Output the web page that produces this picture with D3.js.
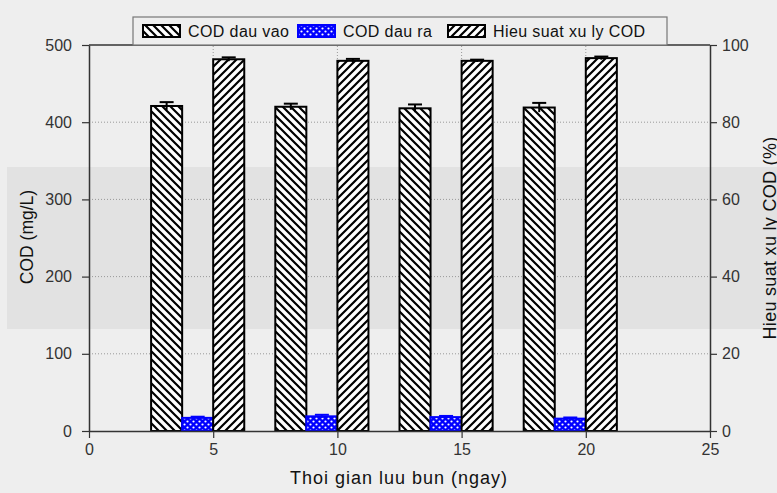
<!DOCTYPE html>
<meta charset="utf-8">
<script src="https://d3js.org/d3.v7.min.js"></script>
<style>
  body { margin: 0; background: #eeeeee; }
  text { font-family: "Liberation Sans", Arial, sans-serif; }
</style>
<body>
<div id="chart"></div>
<script>
  // data
  var days = [5, 10, 15, 20];
  var codIn = [421, 420, 418, 419];
  var codInErr = [5, 4, 5, 6];
  var codOut = [17, 19, 18, 16];
  var codOutErr = [1.5, 2, 1.5, 1.5];
  var eff = [96.3, 95.9, 95.9, 96.6];
  var effErr = [0.5, 0.5, 0.3, 0.4];
  var xTicks = [0, 5, 10, 15, 20, 25];
  var yLeftTicks = [0, 100, 200, 300, 400, 500];
  var yRightTicks = [0, 20, 40, 60, 80, 100];

  var W = 777, H = 493;
  var svg = d3.select("#chart").append("svg")
    .attr("width", W).attr("height", H);

  var x = d3.scaleLinear().domain([0, 25]).range([89, 710]);
  var yL = d3.scaleLinear().domain([0, 500]).range([431, 45]);
  var yR = d3.scaleLinear().domain([0, 100]).range([431, 45]);
  var bw = x(1.25) - x(0);

  // patterns
  var defs = svg.append("defs");
  var p1 = defs.append("pattern").attr("id", "hatchBack")
    .attr("patternUnits", "userSpaceOnUse").attr("width", 8).attr("height", 8);
  p1.append("rect").attr("width", 8).attr("height", 8).attr("fill", "#fff");
  p1.append("path").attr("d", "M-2,-2L10,10M-2,6L2,10M6,-2L10,2")
    .attr("stroke", "#000").attr("stroke-width", 2.2);

  var p2 = defs.append("pattern").attr("id", "hatchFwd")
    .attr("patternUnits", "userSpaceOnUse").attr("width", 8).attr("height", 8);
  p2.append("rect").attr("width", 8).attr("height", 8).attr("fill", "#fff");
  p2.append("path").attr("d", "M-2,10L10,-2M-2,2L2,-2M6,10L10,6")
    .attr("stroke", "#000").attr("stroke-width", 2.2);

  var p3 = defs.append("pattern").attr("id", "dots")
    .attr("patternUnits", "userSpaceOnUse").attr("width", 6).attr("height", 6);
  p3.append("rect").attr("width", 6).attr("height", 6).attr("fill", "#0000ff");
  p3.append("circle").attr("cx", 1.5).attr("cy", 1.5).attr("r", 1.1).attr("fill", "#fff");
  p3.append("circle").attr("cx", 4.5).attr("cy", 4.5).attr("r", 1.1).attr("fill", "#fff");

  // grey band across the picture
  svg.append("rect").attr("x", 7).attr("y", 167).attr("width", W - 7).attr("height", 162)
    .attr("fill", "#e2e2e2");

  // grid
  svg.append("g").selectAll("line").data(yLeftTicks.slice(1, -1)).enter().append("line")
    .attr("x1", x(0)).attr("x2", x(25))
    .attr("y1", function (d) { return yL(d); }).attr("y2", function (d) { return yL(d); })
    .attr("stroke", "#999").attr("stroke-dasharray", "1,2");
  svg.append("g").selectAll("line").data(xTicks.slice(1, -1)).enter().append("line")
    .attr("y1", yL(0)).attr("y2", yL(500))
    .attr("x1", function (d) { return x(d); }).attr("x2", function (d) { return x(d); })
    .attr("stroke", "#999").attr("stroke-dasharray", "1,2");

  // bars
  var bars = svg.append("g").attr("stroke", "#000").attr("stroke-width", 2);
  bars.selectAll(".in").data(days).enter().append("rect")
    .attr("x", function (d) { return x(d - 2.5); })
    .attr("y", function (d, i) { return yL(codIn[i]); })
    .attr("width", bw)
    .attr("height", function (d, i) { return yL(0) - yL(codIn[i]); })
    .attr("fill", "url(#hatchBack)");
  bars.selectAll(".out").data(days).enter().append("rect")
    .attr("x", function (d) { return x(d - 1.25); })
    .attr("y", function (d, i) { return yL(codOut[i]); })
    .attr("width", bw)
    .attr("height", function (d, i) { return yL(0) - yL(codOut[i]); })
    .attr("fill", "url(#dots)").attr("stroke", "#0000ff");
  bars.selectAll(".eff").data(days).enter().append("rect")
    .attr("x", function (d) { return x(d); })
    .attr("y", function (d, i) { return yR(eff[i]); })
    .attr("width", bw)
    .attr("height", function (d, i) { return yR(0) - yR(eff[i]); })
    .attr("fill", "url(#hatchFwd)");

  // error bars
  function errBars(cx, vals, errs, y, color) {
    var g = svg.append("g").attr("stroke", color).attr("stroke-width", 2);
    days.forEach(function (d, i) {
      var c = x(cx(d));
      g.append("line").attr("x1", c).attr("x2", c)
        .attr("y1", y(vals[i] - errs[i])).attr("y2", y(vals[i] + errs[i]));
      g.append("line").attr("x1", c - 7).attr("x2", c + 7)
        .attr("y1", y(vals[i] + errs[i])).attr("y2", y(vals[i] + errs[i]));
    });
  }
  errBars(function (d) { return d - 1.875; }, codIn, codInErr, yL, "#000");
  errBars(function (d) { return d - 0.625; }, codOut, codOutErr, yL, "#0000ff");
  errBars(function (d) { return d + 0.625; }, eff, effErr, yR, "#000");

  // axes
  function styleAxis(g) {
    g.selectAll("path").attr("stroke", "#333").attr("stroke-width", 1.5);
    g.selectAll("line").attr("stroke", "#333").attr("stroke-width", 1.2);
    g.selectAll("text").attr("fill", "#333").style("font-size", "16px")
      .style("font-family", "'Liberation Sans', Arial, sans-serif");
  }
  svg.append("g").attr("transform", "translate(0," + yL(0) + ")")
    .call(d3.axisBottom(x).tickValues(xTicks).tickSize(7).tickPadding(6).tickSizeOuter(0))
    .call(styleAxis);
  svg.append("g").attr("transform", "translate(" + x(0) + ",0)")
    .call(d3.axisLeft(yL).tickValues(yLeftTicks).tickSize(7).tickPadding(10).tickSizeOuter(0))
    .call(styleAxis);
  svg.append("g").attr("transform", "translate(" + x(25) + ",0)")
    .call(d3.axisRight(yR).tickValues(yRightTicks).tickSize(7).tickPadding(5).tickSizeOuter(0))
    .call(styleAxis);
  svg.append("line").attr("x1", x(0)).attr("x2", x(25)).attr("y1", yL(500)).attr("y2", yL(500))
    .attr("stroke", "#333").attr("stroke-width", 1.5);

  // axis titles
  svg.append("text").attr("x", 399).attr("y", 484).attr("text-anchor", "middle")
    .attr("fill", "#111").style("font-size", "18px").style("letter-spacing", "1px")
    .text("Thoi gian luu bun (ngay)");
  svg.append("text").attr("transform", "translate(33,237) rotate(-90)").attr("text-anchor", "middle")
    .attr("fill", "#111").style("font-size", "17.5px").text("COD (mg/L)");
  svg.append("text").attr("transform", "translate(776,238) rotate(-90)").attr("text-anchor", "middle")
    .attr("fill", "#111").style("font-size", "18px").style("letter-spacing", "0.3px")
    .text("Hieu suat xu ly COD (%)");

  // legend
  var leg = svg.append("g");
  leg.append("rect").attr("x", 133).attr("y", 17).attr("width", 534).attr("height", 28)
    .attr("fill", "#eeeeee").attr("stroke", "#777").attr("stroke-width", 1.2);
  var legItems = [
    { name: "COD dau vao", fill: "url(#hatchBack)", sx: 143 },
    { name: "COD dau ra", fill: "url(#dots)", sx: 298 },
    { name: "Hieu suat xu ly COD", fill: "url(#hatchFwd)", sx: 448 }
  ];
  legItems.forEach(function (d) {
    leg.append("rect").attr("x", d.sx).attr("y", 25).attr("width", 37).attr("height", 12)
      .attr("fill", d.fill).attr("stroke", d.name === "COD dau ra" ? "#0000ff" : "#000")
      .attr("stroke-width", 2);
    leg.append("text").attr("x", d.sx + 45).attr("y", 37).attr("fill", "#111")
      .style("font-size", "16px").style("letter-spacing", "0.4px").text(d.name);
  });
</script>
</body>
